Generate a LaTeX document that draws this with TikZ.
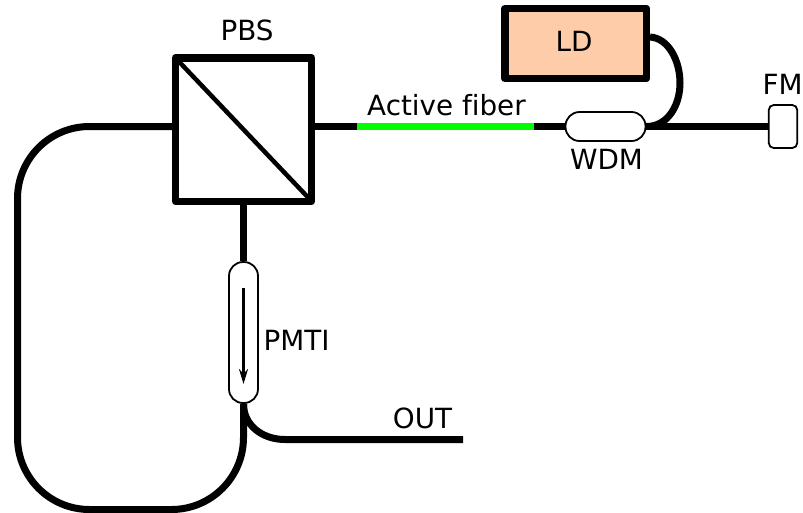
\documentclass[tikz,border=0pt]{standalone}
\usepackage{fontspec}
\setmainfont[Ligatures=NoCommon]{DejaVu Sans}
\usetikzlibrary{arrows.meta}
\definecolor{ldfill}{HTML}{FFCCAA}
\definecolor{activegreen}{HTML}{00FF00}
\tikzset{
    fiber/.style={line width=7pt},
    lbl/.style={anchor=base, inner sep=0pt, font=\fontsize{27.8}{30}\selectfont},
    block/.style={draw, line width=7.5pt, line join=round, inner sep=0pt},
    part/.style={draw, fill=white, line width=1.8pt, inner sep=0pt}
}
\begin{document}
\begin{tikzpicture}[x=1pt,y=-1pt]
    \useasboundingbox (0,0) rectangle (803,512);

    % Components
    \node[block, minimum width=136pt, minimum height=143.5pt] (pbs) at (243.5,129.5) {};
    \node[block, fill=ldfill, minimum width=141.5pt, minimum height=70pt] (ld) at (575.75,43.5) {};
    \node[part, rounded corners=14pt, minimum width=80pt, minimum height=29pt] (wdm) at (605.5,126.5) {};
    \node[part, rounded corners=5pt, minimum width=28.5pt, minimum height=43pt] (fm) at (783,126.5) {};
    \node[part, rounded corners=14pt, minimum width=29pt, minimum height=141pt] (pmti) at (243.5,332.5) {};

    % Free ends and bends
    \coordinate (fibera) at (357,126.5);
    \coordinate (fiberb) at (534,126.5);
    \coordinate (ldout) at (650,37);
    \coordinate (loop) at (17.5,509.5);
    \coordinate (outend) at (463,439.5);
    \coordinate (isoa) at (243.5,288);
    \coordinate (isob) at (243.5,384);

    % Fibers
    \draw[fiber] (pbs.east |- fibera) -- (fibera);
    \draw[fiber, activegreen] (fibera) -- (fiberb);
    \draw[fiber] (fiberb) -- (wdm.west);
    \draw[fiber] (wdm.east) -- (fm.west);
    \draw[fiber] (pbs.south) -- (pmti.north);
    \draw[fiber, rounded corners=72pt] (pbs.west |- fibera) -| (loop) -| (pmti.south);
    \draw[fiber] (pmti.south) .. controls (243.5,425) and (262,439.5) .. (285,439.5) -- (outend);
    \draw[fiber] (ldout) .. controls (668,38) and (680,60) .. (680,83)
        .. controls (680,105) and (668,126.5) .. (wdm.east);

    % Splitter diagonal and isolator arrow
    \draw[line width=4.5pt, shorten <=3pt, shorten >=3pt] (pbs.north west) -- (pbs.south east);
    \draw[line width=2.8pt, -{Stealth[length=15pt,width=9pt]}] (isoa) -- (isob);

    % Labels
    \node[lbl] (pbslabel) at (247,40.5) {PBS};
    \node[lbl] (ldlabel) at (574,51) {LD};
    \node[lbl] (fiberlabel) at (446.5,115.5) {Active fiber};
    \node[lbl] (wdmlabel) at (606.5,169) {WDM};
    \node[lbl] (fmlabel) at (782.5,94) {FM};
    \node[lbl] (pmtilabel) at (296.5,350) {PMTI};
    \node[lbl] (outlabel) at (422.5,428) {OUT};
\end{tikzpicture}
\end{document}
